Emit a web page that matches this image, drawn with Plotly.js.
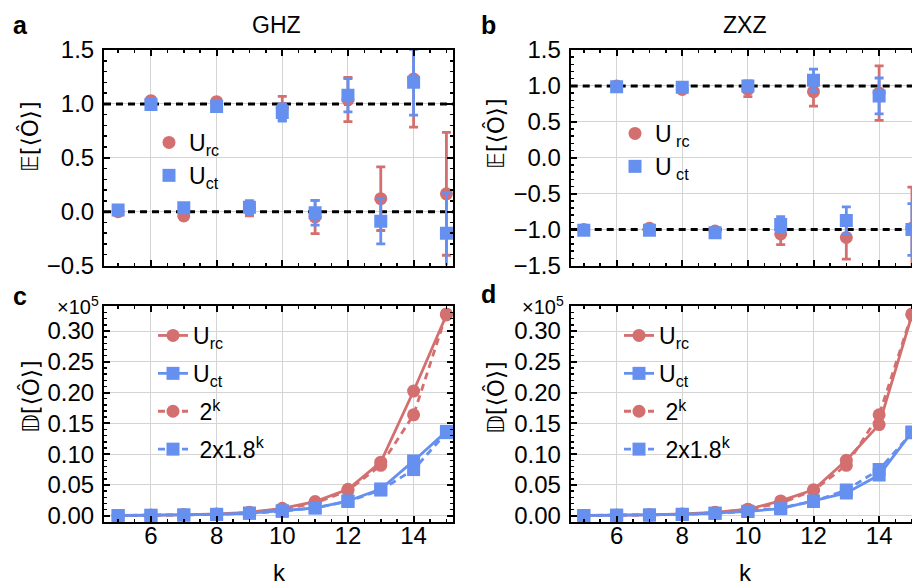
<!DOCTYPE html>
<html>
<head>
<meta charset="utf-8">
<script src="https://cdn.plot.ly/plotly-3.0.1.min.js"></script>
<style>
html, body { margin:0; padding:0; overflow:hidden; background:#fff; }
#chart { width:920px; height:587px; }
</style>
</head>
<body>
<div id="chart"></div>
<script>
// ---- data ----
const k = [5, 6, 7, 8, 9, 10, 11, 12, 13, 14, 15];

// panel a (GHZ) expectation values
const ghzRc    = [0.00, 1.03, -0.04, 1.02, 0.03, 0.96, -0.05, 1.04, 0.12, 1.23, 0.165];
const ghzRcErr = [0.01, 0.015, 0.02, 0.03, 0.07, 0.11, 0.155, 0.205, 0.295, 0.445, 0.57];
const ghzCt    = [0.015, 0.995, 0.035, 0.975, 0.04, 0.92, -0.01, 1.08, -0.09, 1.20, -0.20];
const ghzCtErr = [0.01, 0.015, 0.02, 0.03, 0.06, 0.08, 0.115, 0.155, 0.21, 0.305, 0.375];

// panel b (ZXZ) expectation values
const zxzRc    = [-1.00, 1.00, -0.98, 0.95, -1.02, 0.95, -1.06, 0.92, -1.11, 0.90, -0.98];
const zxzRcErr = [0.01, 0.015, 0.02, 0.03, 0.05, 0.10, 0.15, 0.20, 0.30, 0.38, 0.57];
const zxzCt    = [-1.01, 0.99, -1.01, 0.98, -1.045, 1.00, -0.93, 1.08, -0.875, 0.86, -1.00];
const zxzCtErr = [0.01, 0.01, 0.015, 0.02, 0.03, 0.07, 0.11, 0.155, 0.19, 0.25, 0.36];

// panels c, d (variance, units of 1e5)
const varGhzRc = [0.0004, 0.0007, 0.0014, 0.0028, 0.0055, 0.012, 0.023, 0.043, 0.087, 0.2025, 0.326];
const varGhzCt = [0.0003, 0.0006, 0.0011, 0.0021, 0.0042, 0.008, 0.0125, 0.024, 0.0435, 0.089, 0.137];
const varZxzRc = [0.0004, 0.0007, 0.0014, 0.0028, 0.0055, 0.0105, 0.024, 0.042, 0.090, 0.148, 0.326];
const varZxzCt = [0.0003, 0.0006, 0.0011, 0.0021, 0.0042, 0.007, 0.0115, 0.024, 0.037, 0.066, 0.136];
const pow2     = [0.00032, 0.00064, 0.00128, 0.00256, 0.00512, 0.01024, 0.02048, 0.04096, 0.08192, 0.16384, 0.32768];
const pow18    = [0.00038, 0.00068, 0.00122, 0.0022, 0.00397, 0.00714, 0.01285, 0.02313, 0.04164, 0.07496, 0.13493];

// reference (expected) values drawn as dashed lines
const refA = [0, 1];
const refB = [-1, 1];

const nameRc = 'U<sub>rc</sub>';
const nameCt = 'U<sub>ct</sub>';
const nameRcB = 'U<sub>\u00a0rc</sub>';
const nameCtB = 'U<sub>\u00a0ct</sub>';
const namePow2 = '\u00a02<sup>k</sup>';
const namePow18 = '\u00a02x1.8<sup>k</sup>';

// axis ranges
const xRangeL = [4.57, 15.2];
const xRangeR = [4.6, 15.2];
const yRangeA = [-0.5, 1.5];
const yRangeB = [-1.5, 1.5];
const yRangeCD = [-0.0102, 0.3406];

// ---- style ----
const RED = '#d46f6f';
const BLUE = '#6690f0';
const W = 920, H = 587;
const px = v => v / W;
const py = v => 1 - v / H;
const FONT = 'Liberation Sans, Arial, Helvetica, sans-serif';
const TICKSIZE = 24;

function refTrace(v, xr, xa, ya) {
  return {
    type: 'scatter', mode: 'lines', x: xr, y: [v, v], xaxis: xa, yaxis: ya,
    showlegend: false, hoverinfo: 'skip',
    line: { color: '#000', width: 3, dash: '7px,5px' }
  };
}
function errTrace(x, y, e, col, sym, xa, ya, name, leg, grp) {
  return {
    type: 'scatter', mode: 'markers', x: x, y: y, xaxis: xa, yaxis: ya,
    name: name, legend: leg, legendgroup: grp, cliponaxis: true,
    marker: { color: col, symbol: sym, size: 13 },
    error_y: { type: 'data', array: e, visible: true, color: col, thickness: 2.8, width: 4.5 }
  };
}
function lineTrace(x, y, col, sym, dash, xa, ya, name, leg, rank, grp) {
  return {
    type: 'scatter', mode: 'lines+markers', x: x, y: y, xaxis: xa, yaxis: ya,
    name: name, legend: leg, legendrank: rank, legendgroup: grp,
    line: { color: col, width: 2.8, dash: dash },
    marker: { color: col, symbol: sym, size: 13 }
  };
}

const data = [].concat(
  refA.map(v => refTrace(v, xRangeL, 'x', 'y')),
  refB.map(v => refTrace(v, xRangeR, 'x2', 'y2')),
  [
    errTrace(k, ghzRc, ghzRcErr, RED, 'circle', 'x', 'y', nameRc, 'legend', 'a1'),
    errTrace(k, ghzCt, ghzCtErr, BLUE, 'square', 'x', 'y', nameCt, 'legend', 'a2'),
    errTrace(k, zxzRc, zxzRcErr, RED, 'circle', 'x2', 'y2', nameRcB, 'legend2', 'b1'),
    errTrace(k, zxzCt, zxzCtErr, BLUE, 'square', 'x2', 'y2', nameCtB, 'legend2', 'b2'),

    lineTrace(k, pow2, RED, 'circle', '7px,5px', 'x3', 'y3', namePow2, 'legend3', 3, 'c3'),
    lineTrace(k, pow18, BLUE, 'square', '7px,5px', 'x3', 'y3', namePow18, 'legend3', 4, 'c4'),
    lineTrace(k, varGhzRc, RED, 'circle', 'solid', 'x3', 'y3', nameRc, 'legend3', 1, 'c1'),
    lineTrace(k, varGhzCt, BLUE, 'square', 'solid', 'x3', 'y3', nameCt, 'legend3', 2, 'c2'),

    lineTrace(k, pow2, RED, 'circle', '7px,5px', 'x4', 'y4', namePow2, 'legend4', 3, 'd3'),
    lineTrace(k, pow18, BLUE, 'square', '7px,5px', 'x4', 'y4', namePow18, 'legend4', 4, 'd4'),
    lineTrace(k, varZxzRc, RED, 'circle', 'solid', 'x4', 'y4', nameRc, 'legend4', 1, 'd1'),
    lineTrace(k, varZxzCt, BLUE, 'square', 'solid', 'x4', 'y4', nameCt, 'legend4', 2, 'd2')
  ]
);

const xdomL = [px(104), px(453)];
const xdomR = [px(570.7), px(918.5)];
const ydomT = [py(265.5), py(50)];
const ydomB = [py(522), py(306)];

function xax(dom, anchor, range, labels) {
  return {
    domain: dom, anchor: anchor, range: range,
    showline: true, linecolor: '#000', linewidth: 2, mirror: 'allticks',
    ticks: 'inside', ticklen: 6, tickwidth: 2, tickcolor: '#000',
    tick0: 0, dtick: 2, showticklabels: labels,
    tickfont: { family: FONT, size: TICKSIZE, color: '#000' },
    showgrid: true, gridcolor: '#d4d4d4', gridwidth: 1, zeroline: false,
    minor: { dtick: 0.5, tick0: 0, ticks: 'inside', ticklen: 3, tickwidth: 1.5, tickcolor: '#000', showgrid: false },
    ticklabelstandoff: -9
  };
}
function yax(dom, anchor, range, dtick, mdtick, fmt) {
  return {
    domain: dom, anchor: anchor, range: range,
    showline: true, linecolor: '#000', linewidth: 2, mirror: 'allticks',
    ticks: 'inside', ticklen: 6, tickwidth: 2, tickcolor: '#000',
    tick0: 0, dtick: dtick, tickformat: fmt,
    tickfont: { family: FONT, size: TICKSIZE, color: '#000' },
    showgrid: true, gridcolor: '#d4d4d4', gridwidth: 1, zeroline: false,
    minor: { dtick: mdtick, tick0: 0, ticks: 'inside', ticklen: 3, tickwidth: 1.5, tickcolor: '#000', showgrid: false },
    ticklabelstandoff: 3
  };
}

function legendCfg(x, y, gap) {
  return {
    x: x, y: y, xanchor: 'left', yanchor: 'top', bgcolor: 'rgba(0,0,0,0)',
    font: { family: FONT, size: 23, color: '#000' }, tracegroupgap: gap,
    itemclick: false, itemdoubleclick: false
  };
}

function ann(text, x, y, size, opts) {
  return Object.assign({
    text: text, xref: 'paper', yref: 'paper', x: px(x), y: py(y),
    showarrow: false, font: { family: FONT, size: size, color: '#000' },
    xanchor: 'center', yanchor: 'middle'
  }, opts || {});
}

const YT = 'DejaVu Sans, Noto Sans, sans-serif';
const ytFont = { family: YT, size: 23, color: '#000' };
const layout = {
  width: W, height: H, paper_bgcolor: '#fff', plot_bgcolor: '#fff',
  margin: { l: 0, r: 0, t: 0, b: 0 },
  showlegend: true,
  xaxis:  xax(xdomL, 'y',  xRangeL, false),
  yaxis:  yax(ydomT, 'x',  yRangeA, 0.5, 0.1, '.1f'),
  xaxis2: xax(xdomR, 'y2', xRangeR, false),
  yaxis2: yax(ydomT, 'x2', yRangeB, 0.5, 0.1, '.1f'),
  xaxis3: xax(xdomL, 'y3', xRangeL, true),
  yaxis3: yax(ydomB, 'x3', yRangeCD, 0.05, 0.01, '.2f'),
  xaxis4: xax(xdomR, 'y4', xRangeR, true),
  yaxis4: yax(ydomB, 'x4', yRangeCD, 0.05, 0.01, '.2f'),
  legend:  legendCfg(px(149), py(121), 0),
  legend2: legendCfg(px(615), py(112), 0),
  legend3: legendCfg(px(153), py(314), 5),
  legend4: legendCfg(px(619), py(314), 5),
  annotations: [
    ann('<b>a</b>', 20, 25, 25),
    ann('<b>b</b>', 488, 25, 25),
    ann('<b>c</b>', 20, 296, 25),
    ann('<b>d</b>', 488, 294, 25),
    ann('GHZ', 276, 25, 23),
    ann('ZXZ', 744, 25, 23),
    ann('k', 279, 572, 24),
    ann('k', 745, 572, 24),
    ann('\u00d710<sup>5</sup>', 101, 305, 20, { xanchor: 'right' }),
    ann('\u00d710<sup>5</sup>', 566, 305, 20, { xanchor: 'right' }),
    ann('\ud835\udd3c[\u27e8\u00d4\u27e9]', 30, 137, 23, { textangle: -90, font: ytFont }),
    ann('\ud835\udd3c[\u27e8\u00d4\u27e9]', 495, 133, 23, { textangle: -90, font: ytFont }),
    ann('\ud835\udd3b[\u27e8\u00d4\u27e9]', 30, 397, 23, { textangle: -90, font: ytFont }),
    ann('\ud835\udd3b[\u27e8\u00d4\u27e9]', 495, 397, 23, { textangle: -90, font: ytFont })
  ]
};

Plotly.newPlot('chart', data, layout, { displayModeBar: false, staticPlot: true });
</script>
</body>
</html>
